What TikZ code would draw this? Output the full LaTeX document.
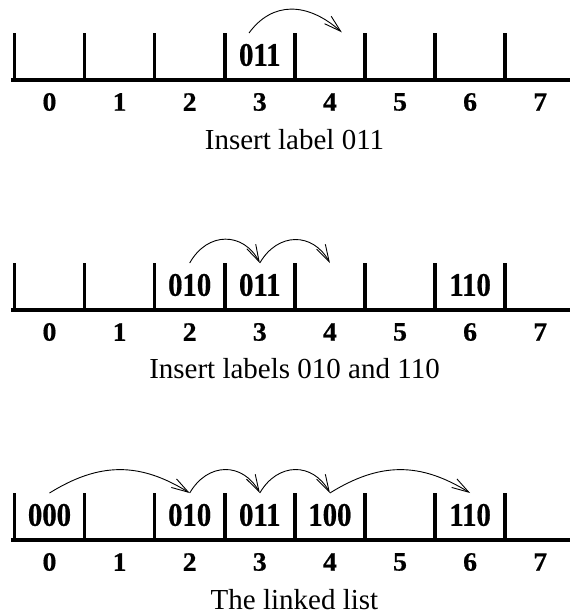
\documentclass[tikz,border=0pt]{standalone}
\usepackage{fontspec}
\setmainfont{Liberation Serif}
\newfontfamily\cellfont{Liberation Serif}[FakeStretch=0.87,FakeBold=0.6]
\newfontfamily\idxfont{Liberation Serif}[FakeStretch=1.05,FakeBold=0.6]
\usetikzlibrary{arrows.meta}
\begin{document}
\begin{tikzpicture}[x=1pt,y=-1pt,
  baseline line/.style={line width=4pt},
  tickline/.style={line width=3.5pt},
  idx/.style={font=\idxfont\fontsize{26.5}{28}\selectfont\bfseries, inner sep=0pt},
  cell/.style={font=\cellfont\fontsize{33}{35}\selectfont\bfseries, inner sep=0pt},
  captext/.style={font=\fontsize{29}{31}\selectfont, inner sep=0pt},
  link/.style={line width=0.9pt, -{Straight Barb[length=17pt,width=10pt]}}]
\useasboundingbox (0,0) rectangle (570,615);
\foreach \p/\b in {1/80, 2/310, 3/540} {
  \coordinate (L\p) at (11,\b);
  \coordinate (R\p) at (570,\b);
  \draw[baseline line] (L\p) -- (R\p);
  \foreach \i in {0,...,7} {
    \pgfmathsetmacro\tx{14.5+70.1*\i}
    \coordinate (t\p\i) at (\tx,\b-47);
    \coordinate (b\p\i) at (\tx,\b+1);
    \draw[tickline] (b\p\i) -- (t\p\i);
    \node[idx] (n\p\i) at (\tx+35,\b+22) {\i};
    \coordinate (c\p\i) at (\tx+35,\b-47);
  }
}
% panel 1
\node[cell] (v13) at ([yshift=-22pt]c13) {011};
\coordinate (a1s) at (249,33);
\coordinate (a1e) at (341.8,32.3);
\draw[link] (a1s) .. controls (272,1.5) and (307,1.5) .. (a1e);
\node[captext] (cap1) at (294.5,139.5) {Insert label 011};
% panel 2
\node[cell] (v22) at ([yshift=-22pt]c22) {010};
\node[cell] (v23) at ([yshift=-22pt]c23) {011};
\node[cell] (v26) at ([yshift=-22pt]c26) {110};
\draw[link] (c22) .. controls +(18,-32) and +(-16,-31) .. (c23);
\draw[link] (c23) .. controls +(18,-31) and +(-17,-31) .. (c24);
\node[captext] (cap2) at (294.5,369) {Insert labels 010 and 110};
% panel 3
\node[cell] (v30) at ([yshift=-22pt]c30) {000};
\node[cell] (v32) at ([yshift=-22pt]c32) {010};
\node[cell] (v33) at ([yshift=-22pt]c33) {011};
\node[cell] (v34) at ([yshift=-22pt]c34) {100};
\node[cell] (v36) at ([yshift=-22pt]c36) {110};
\draw[link] (c30) .. controls +(50,-31) and +(-50,-31) .. (c32);
\draw[link] (c32) .. controls +(18,-31) and +(-17,-31) .. (c33);
\draw[link] (c33) .. controls +(18,-31) and +(-17,-31) .. (c34);
\draw[link] (c34) .. controls +(50,-31) and +(-50,-31) .. (c36);
\node[captext] (cap3) at (294.5,600) {The linked list};
\end{tikzpicture}
\end{document}
